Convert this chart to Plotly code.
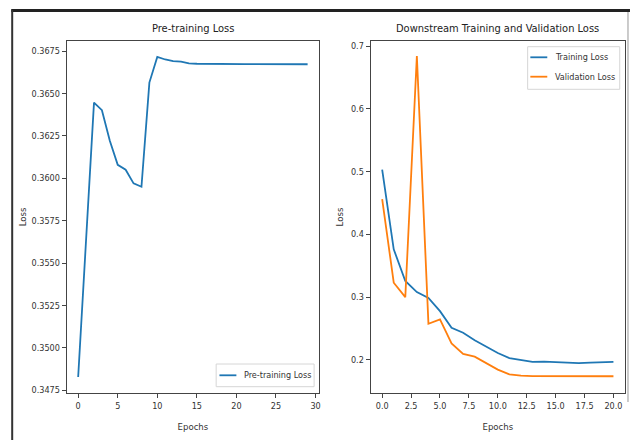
import plotly.graph_objects as go

# ---- data ----
pre_epochs = [0, 1, 2, 3, 4, 5, 6, 7, 8, 9, 10, 11, 12, 13, 14, 15, 16, 17, 18, 19,
              20, 21, 22, 23, 24, 25, 26, 27, 28, 29]
pre_loss = [0.34828, 0.3563, 0.36446, 0.36401, 0.36221, 0.36079, 0.3605, 0.3597, 0.3595, 0.36564,
            0.36715, 0.3670, 0.3669, 0.36687, 0.36677, 0.36675, 0.36674, 0.36674, 0.36673, 0.36673,
            0.36673, 0.36673, 0.36673, 0.36673, 0.36672, 0.36672, 0.36672, 0.36672, 0.36672, 0.36672]

down_epochs = [0, 1, 2, 3, 4, 5, 6, 7, 8, 9, 10, 11, 12, 13, 14, 15, 16, 17, 18, 19, 20]
train_loss = [0.503, 0.376, 0.3255, 0.3078, 0.2984, 0.2775, 0.251, 0.243, 0.231, 0.2204, 0.2107,
              0.2027, 0.199, 0.1965, 0.197, 0.196, 0.1955, 0.1945, 0.1955, 0.196, 0.1965]
val_loss = [0.456, 0.3228, 0.2998, 0.684, 0.2573, 0.2642, 0.2259, 0.2094, 0.205, 0.194, 0.1843,
            0.1768, 0.1747, 0.1738, 0.1737, 0.1737, 0.1737, 0.1737, 0.1737, 0.1737, 0.1737]

titles = ["Pre-training Loss", "Downstream Training and Validation Loss"]
series_names = ["Pre-training Loss", "Training Loss", "Validation Loss"]

FONT = "Liberation Sans Narrow, DejaVu Sans Condensed, Arial Narrow, sans-serif"
BLUE = "#1f77b4"
ORANGE = "#ff7f0e"
TXT = "#333"

W, H = 632, 440
ML, MR, MT, MB = 66, 5, 41, 47
PW, PH = W - ML - MR, H - MT - MB


def px(x):
    return (x - ML) / PW


def py(y):
    return (H - MB - y) / PH


fig = go.Figure()
fig.add_trace(go.Scatter(x=pre_epochs, y=pre_loss, mode="lines", name=series_names[0],
                         line=dict(color=BLUE, width=1.8), xaxis="x", yaxis="y"))
fig.add_trace(go.Scatter(x=down_epochs, y=train_loss, mode="lines", name=series_names[1],
                         line=dict(color=BLUE, width=1.8), xaxis="x2", yaxis="y2"))
fig.add_trace(go.Scatter(x=down_epochs, y=val_loss, mode="lines", name=series_names[2],
                         line=dict(color=ORANGE, width=1.8), xaxis="x2", yaxis="y2"))

axis_common = dict(showline=True, linecolor="#444", linewidth=1, mirror=True, ticks="outside",
                   ticklen=4, tickcolor="#444", showgrid=False, zeroline=False,
                   tickfont=dict(family=FONT, size=9, color=TXT))

fig.update_layout(
    width=W, height=H,
    margin=dict(l=ML, r=MR, t=MT, b=MB),
    paper_bgcolor="white", plot_bgcolor="white",
    font=dict(family=FONT, size=9, color=TXT),
    showlegend=False,
    xaxis=dict(domain=[px(66.7), px(320)], range=[-1.45, 30.45], dtick=5, tick0=0,
               title=dict(text="Epochs", standoff=13, font=dict(family=FONT, size=9.5, color=TXT)),
               **axis_common),
    yaxis=dict(domain=[0, 1], range=[0.34734, 0.36809], dtick=0.0025, tick0=0.3475, tickformat=".4f",
               title=dict(text="Loss", standoff=3, font=dict(family=FONT, size=9.5, color=TXT)),
               **axis_common),
    xaxis2=dict(domain=[px(371.7), 1], range=[-1, 21], dtick=2.5, tick0=0, tickformat=".1f",
                anchor="y2",
                title=dict(text="Epochs", standoff=13, font=dict(family=FONT, size=9.5, color=TXT)),
                **axis_common),
    yaxis2=dict(domain=[0, 1], range=[0.147, 0.708], dtick=0.1, tick0=0.2, tickformat=".1f",
                anchor="x2",
                title=dict(text="Loss", standoff=5, font=dict(family=FONT, size=9.5, color=TXT)),
                **axis_common),
)

# subplot titles
fig.add_annotation(text=titles[0], xref="paper", yref="paper", x=px(193.3), y=py(28),
                   xanchor="center", yanchor="middle", showarrow=False,
                   font=dict(family=FONT, size=11, color="#222"))
fig.add_annotation(text=titles[1], xref="paper", yref="paper", x=px(499), y=py(28),
                   xanchor="center", yanchor="middle", showarrow=False,
                   font=dict(family=FONT, size=11, color="#222"))


# legends (matplotlib style boxes)
def legend_box(x0, x1, y0, y1):
    fig.add_shape(type="rect", xref="paper", yref="paper", x0=px(x0), x1=px(x1), y0=py(y0), y1=py(y1),
                  line=dict(color="#d6d6d6", width=1), fillcolor="rgba(255,255,255,0.8)", layer="above")


def legend_item(xl, yl, text, color):
    fig.add_shape(type="line", xref="paper", yref="paper", x0=px(xl), x1=px(xl + 17), y0=py(yl), y1=py(yl),
                  line=dict(color=color, width=1.8), layer="above")
    fig.add_annotation(text=text, xref="paper", yref="paper", x=px(xl + 22.5), y=py(yl),
                       xanchor="left", yanchor="middle", showarrow=False,
                       font=dict(family=FONT, size=9, color=TXT))


legend_box(216.7, 315, 364, 386.7)
legend_item(220, 375.3, series_names[0], BLUE)
legend_box(529.3, 621.7, 46.7, 89.3)
legend_item(532, 57.3, series_names[1], BLUE)
legend_item(532, 76.7, series_names[2], ORANGE)

# outer frame lines
fig.add_shape(type="line", xref="paper", yref="paper", x0=px(11), x1=px(632), y0=py(10.5), y1=py(10.5),
              line=dict(color="#222", width=3))
fig.add_shape(type="line", xref="paper", yref="paper", x0=px(12), x1=px(12), y0=py(10), y1=py(440),
              line=dict(color="#333", width=2))
fig.add_shape(type="line", xref="paper", yref="paper", x0=px(630), x1=px(630), y0=py(12), y1=py(402),
              line=dict(color="#999", width=1))

fig.write_html("out.html")
